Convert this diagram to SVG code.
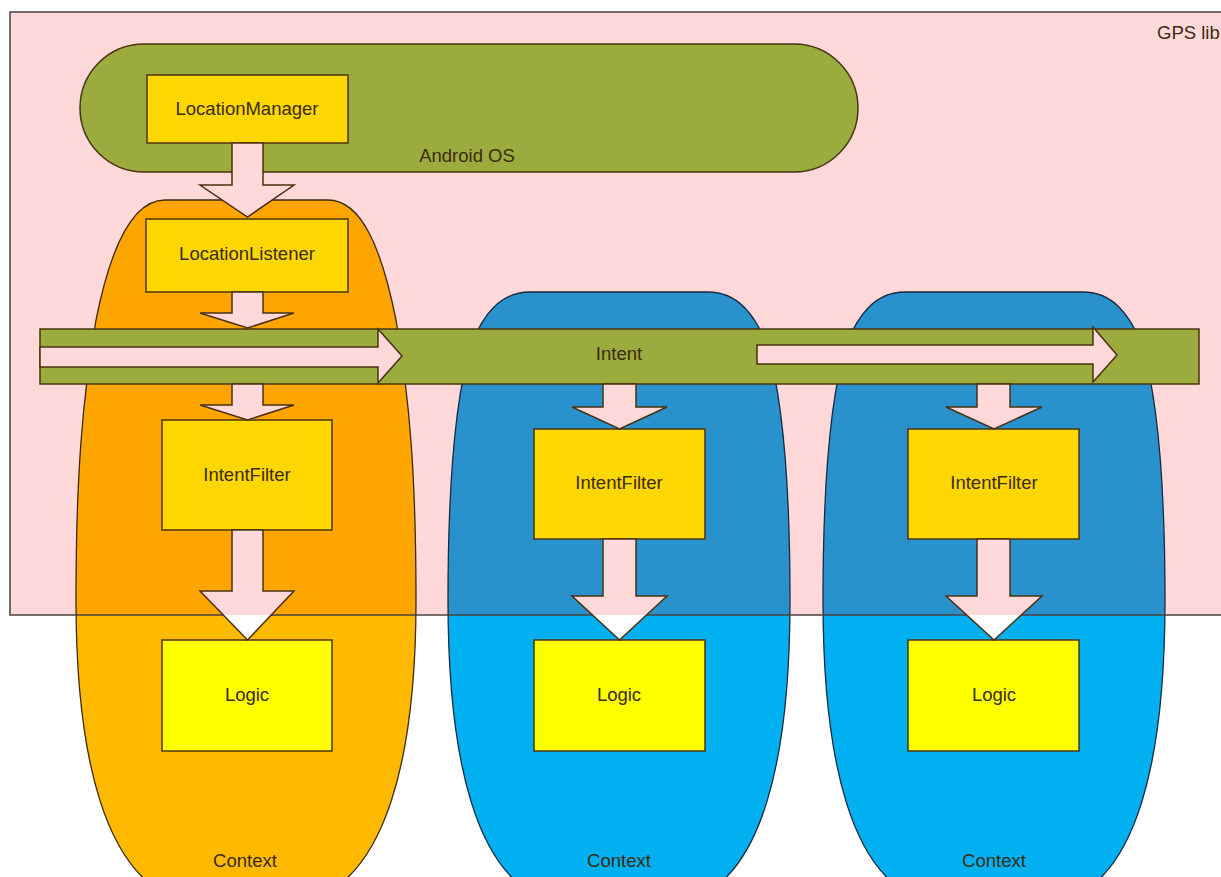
<svg xmlns="http://www.w3.org/2000/svg" width="1221" height="877" viewBox="0 0 1221 877">
<defs>
<linearGradient id="gOrange" gradientUnits="userSpaceOnUse" x1="0" y1="0" x2="0" y2="877">
<stop offset="0" stop-color="#FFA500"/><stop offset="0.7013" stop-color="#FFA500"/><stop offset="0.7013" stop-color="#FFBA00"/><stop offset="1" stop-color="#FFBA00"/>
</linearGradient>
<linearGradient id="gBlue" gradientUnits="userSpaceOnUse" x1="0" y1="0" x2="0" y2="877">
<stop offset="0" stop-color="#2992CC"/><stop offset="0.7013" stop-color="#2992CC"/><stop offset="0.7013" stop-color="#00B0F0"/><stop offset="1" stop-color="#00B0F0"/>
</linearGradient>
<linearGradient id="gArrow" gradientUnits="userSpaceOnUse" x1="0" y1="0" x2="0" y2="877">
<stop offset="0" stop-color="#FFD8DA"/><stop offset="0.7013" stop-color="#FFD8DA"/><stop offset="0.7013" stop-color="#FFFFFF"/><stop offset="1" stop-color="#FFFFFF"/>
</linearGradient>
</defs>
<style>
text{font-family:"Liberation Sans",Arial,sans-serif;font-size:18.5px;fill:#3a2c10;text-anchor:middle}
.box{fill:#FFD700;stroke:#4a3410;stroke-width:1.5}
.logic{fill:#FFFF00;stroke:#4a3410;stroke-width:1.5}
.ctxO{fill:url(#gOrange);stroke:#3a2a10;stroke-width:1.3}
.ctxB{fill:url(#gBlue);stroke:#1a2a40;stroke-width:1.3}
.arr{fill:url(#gArrow);stroke:#4a3010;stroke-width:1.5;stroke-linejoin:miter}
.green{fill:#9CAB3E;stroke:#4a3410;stroke-width:1.5}
</style>
<rect width="1221" height="877" fill="#FFFFFF"/>
<g id="gps-lib">
<rect x="10" y="12" width="1230" height="603" fill="#FFD8DA"/>
</g>
<g id="android-os">
<rect x="80" y="44" width="778" height="128" rx="64" ry="64" class="green"/>
<text x="467" y="162">Android OS</text>
</g>
<g id="context-1">
<path class="ctxO" d="M 165 200 L 328 200 C 362 200 382 250 396 320 C 410 400 416 480 416 600 C 416 760 385 877 310 900 L 180 900 C 106 877 76 760 76 600 C 76 480 82 400 96 320 C 110 250 131 200 165 200 Z"/>
<text x="245" y="867">Context</text>
</g>
<g id="context-2">
<path class="ctxB" d="M 530 292 L 708 292 C 738 292 755 315 767 345 C 782 395 790 480 790 600 C 790 760 762 877 690 900 L 548 900 C 476 877 448 760 448 600 C 448 480 456 395 471 345 C 483 315 500 292 530 292 Z"/>
<text x="619" y="867">Context</text>
</g>
<g id="context-3">
<path class="ctxB" d="M 905 292 L 1083 292 C 1113 292 1130 315 1142 345 C 1157 395 1165 480 1165 600 C 1165 760 1137 877 1065 900 L 923 900 C 851 877 823 760 823 600 C 823 480 831 395 846 345 C 858 315 875 292 905 292 Z"/>
<text x="994" y="867">Context</text>
</g>
<g id="gps-lib-border">
<rect x="10" y="12" width="1230" height="603" fill="none" stroke="#4a4040" stroke-width="1.5"/>
<text x="1157" y="39" style="text-anchor:start">GPS lib</text>
</g>
<g id="intent">
<rect x="40" y="329" width="1159" height="55" class="green"/>
<text x="619" y="360">Intent</text>
</g>
<g id="location-manager">
<rect x="147" y="75" width="201" height="68" class="box"/>
<text x="247" y="115">LocationManager</text>
</g>
<g id="location-listener">
<rect x="146" y="219" width="202" height="73" class="box"/>
<text x="247" y="260">LocationListener</text>
</g>
<g id="intent-filter-1">
<rect x="162" y="420" width="170" height="110" class="box"/>
<text x="247" y="481">IntentFilter</text>
</g>
<g id="intent-filter-2">
<rect x="534" y="429" width="171" height="110" class="box"/>
<text x="619" y="489">IntentFilter</text>
</g>
<g id="intent-filter-3">
<rect x="908" y="429" width="171" height="110" class="box"/>
<text x="994" y="489">IntentFilter</text>
</g>
<g id="logic-1">
<rect x="162" y="640" width="170" height="111" class="logic"/>
<text x="247" y="701">Logic</text>
</g>
<g id="logic-2">
<rect x="534" y="640" width="171" height="111" class="logic"/>
<text x="619" y="701">Logic</text>
</g>
<g id="logic-3">
<rect x="908" y="640" width="171" height="111" class="logic"/>
<text x="994" y="701">Logic</text>
</g>
<g id="connectors">
<path class="arr" d="M 232 143 L 263 143 L 263 185 L 294 185 L 247.5 217 L 200 185 L 232 185 Z"/>
<path class="arr" d="M 232 292 L 263 292 L 263 313 L 294 313 L 247.5 328 L 200 313 L 232 313 Z"/>
<path class="arr" d="M 40 347 L 378 347 L 378 329 L 402 356 L 378 383 L 378 367 L 40 367 Z"/>
<path class="arr" d="M 757 345 L 1093 345 L 1093 327 L 1117 355 L 1093 382 L 1093 364 L 757 364 Z"/>
<path class="arr" d="M 232 384 L 263 384 L 263 405 L 294 405 L 247.5 420 L 200 405 L 232 405 Z"/>
<path class="arr" d="M 232 530 L 263 530 L 263 591 L 294 591 L 247.5 640 L 200 591 L 232 591 Z"/>
<path class="arr" d="M 603 384 L 636 384 L 636 407 L 667 407 L 619.5 429 L 572 407 L 603 407 Z"/>
<path class="arr" d="M 603 539 L 636 539 L 636 596 L 667 596 L 619.5 640 L 572 596 L 603 596 Z"/>
<path class="arr" d="M 977 384 L 1010 384 L 1010 407 L 1042 407 L 994 429 L 946 407 L 977 407 Z"/>
<path class="arr" d="M 977 539 L 1010 539 L 1010 596 L 1042 596 L 994 640 L 946 596 L 977 596 Z"/>
</g>
</svg>
